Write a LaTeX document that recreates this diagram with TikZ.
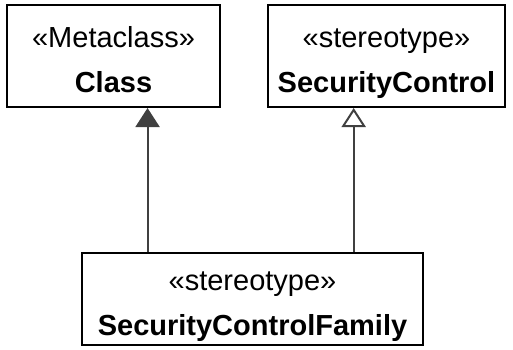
\documentclass[tikz,border=0pt]{standalone}
\usepackage{fontspec}
\setmainfont{Liberation Sans}
\usetikzlibrary{arrows.meta,calc}
\definecolor{linkgray}{HTML}{404040}
\newcommand{\eqline}{\vphantom{Iy}}
\newcommand{\topline}{\rule{0pt}{34pt}}
\begin{document}
\begin{tikzpicture}[x=1pt,y=-1pt,
  every node/.style={font=\fontsize{29}{45}\selectfont},
  umlbox/.style={draw=black,line width=2pt,align=center,inner sep=0pt},
  link/.style={draw=linkgray,line width=2pt}]
\useasboundingbox (0,0) rectangle (513,350);
% classes
\node[umlbox,minimum width=213,minimum height=102] (cls) at (113.5,56) {\topline\eqline«Metaclass»\\\eqline\textbf{Class}};
\node[umlbox,minimum width=237,minimum height=102] (secctl) at (386.5,56) {\topline\eqline«stereotype»\\\eqline\textbf{SecurityControl}};
\node[umlbox,minimum width=341,minimum height=92] (family) at (252.5,299) {\topline\eqline«stereotype»\\\eqline\textbf{SecurityControlFamily}};
% extension and generalization
\coordinate (ext) at ($(family.north west)!0.194!(family.north east)$);
\coordinate (gen) at ($(family.north west)!0.795!(family.north east)$);
\draw[link,-{Triangle[width=24pt,length=19pt,fill=linkgray]}] (ext) -- (ext |- cls.south);
\draw[link,-{Triangle[open,width=24pt,length=19pt,fill=white]}] (gen) -- (gen |- secctl.south);
\end{tikzpicture}
\end{document}
